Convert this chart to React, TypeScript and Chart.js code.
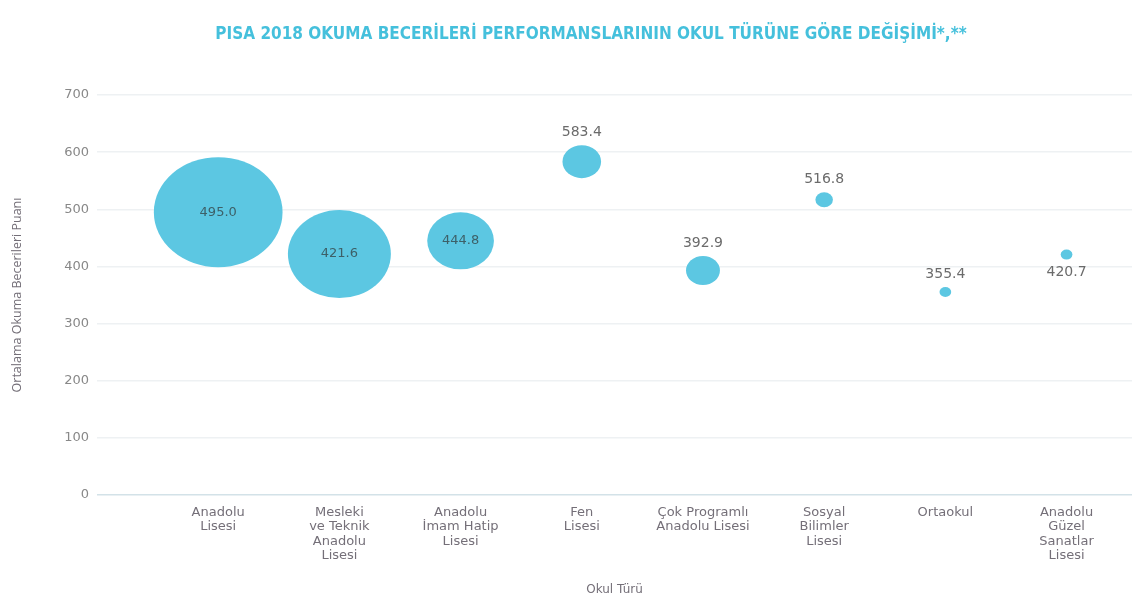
import React, { useEffect, useRef } from 'react';
import { Chart, registerables } from 'chart.js';

Chart.register(...registerables);

const chartTitle = 'PISA 2018 OKUMA BECERİLERİ PERFORMANSLARININ OKUL TÜRÜNE GÖRE DEĞİŞİMİ*,**';
const categories: string[][] = [
  ['Anadolu', 'Lisesi'],
  ['Mesleki', 've Teknik', 'Anadolu', 'Lisesi'],
  ['Anadolu', 'İmam Hatip', 'Lisesi'],
  ['Fen', 'Lisesi'],
  ['Çok Programlı', 'Anadolu Lisesi'],
  ['Sosyal', 'Bilimler', 'Lisesi'],
  ['Ortaokul'],
  ['Anadolu', 'Güzel', 'Sanatlar', 'Lisesi'],
];
const scores = [495.0, 421.6, 444.8, 583.4, 392.9, 516.8, 355.4, 420.7];
const bubbleSizes = [55, 44, 28.5, 16.5, 14.5, 7.5, 5, 5];
const labelPlacement = ['center', 'center', 'center', 'top', 'top', 'top', 'top', 'bottom'];
const yTickValues = [0, 100, 200, 300, 400, 500, 600, 700];

const BUBBLE = '#5cc7e2';
const FONT = '"Open Sans", "DejaVu Sans", sans-serif';
const WIDE = '"DejaVu Sans", sans-serif';

const ellipsePlugin = {
  id: 'ellipseBubbles',
  beforeDatasetDraw(chart: any, args: any) {
    const meta = chart.getDatasetMeta(args.index);
    const ctx = chart.ctx;
    ctx.save();
    meta.data.forEach((el: any) => {
      const r = el.options.radius;
      ctx.beginPath();
      ctx.ellipse(el.x, el.y, r * 1.17, r, 0, 0, Math.PI * 2);
      ctx.fillStyle = BUBBLE;
      ctx.fill();
    });
    ctx.restore();
    return false;
  },
};

const labelPlugin = {
  id: 'valueLabels',
  afterDatasetsDraw(chart: any) {
    const meta = chart.getDatasetMeta(0);
    const ctx = chart.ctx;
    ctx.save();
    ctx.textAlign = 'center';
    ctx.textBaseline = 'middle';
    meta.data.forEach((el: any, i: number) => {
      const r = el.options.radius;
      const place = labelPlacement[i];
      const text = scores[i].toFixed(1);
      let y = el.y;
      if (place === 'top') y = el.y - r - 13;
      if (place === 'bottom') y = el.y + r + 13;
      ctx.font = `${place === 'center' ? 13 : 14}px ${WIDE}`;
      ctx.fillStyle = place === 'center' ? '#3d6068' : '#6b6b6b';
      ctx.fillText(text, el.x, y);
    });
    ctx.restore();
  },
};

const titlePlugin = {
  id: 'topTitle',
  afterDraw(chart: any) {
    const ctx = chart.ctx;
    ctx.save();
    ctx.font = `bold 17px "DejaVu Sans Condensed", "Liberation Sans Narrow", sans-serif`;
    ctx.fillStyle = '#45c0dc';
    ctx.textAlign = 'center';
    ctx.textBaseline = 'middle';
    ctx.fillText(chartTitle, 591, 35);
    ctx.restore();
  },
};

export default function App() {
  const canvasRef = useRef<HTMLCanvasElement | null>(null);

  useEffect(() => {
    document.body.style.margin = '0';
    const canvas = canvasRef.current;
    if (!canvas) return;
    const chart = new Chart(canvas, {
      type: 'bubble',
      data: {
        datasets: [
          {
            label: 'Okuma',
            data: scores.map((s, i) => ({ x: i, y: s, r: bubbleSizes[i] })),
            backgroundColor: BUBBLE,
            borderWidth: 0,
          },
        ],
      },
      plugins: [ellipsePlugin, labelPlugin, titlePlugin],
      options: {
        animation: false,
        responsive: true,
        maintainAspectRatio: false,
        layout: { autoPadding: false, padding: { top: 95, right: 9, left: 0, bottom: 0 } },
        plugins: {
          legend: { display: false },
          tooltip: { enabled: false },
          title: { display: false },
        },
        scales: {
          x: {
            type: 'linear',
            min: -1,
            max: 7.54,
            afterBuildTicks: (scale: any) => {
              scale.ticks = categories.map((_, i) => ({ value: i }));
            },
            afterFit: (scale: any) => {
              scale.height = 106;
              scale.paddingLeft = 0;
              scale.paddingRight = 0;
            },
            grid: { display: false, drawTicks: false },
            border: { display: false },
            ticks: {
              autoSkip: false,
              maxRotation: 0,
              padding: 10,
              color: '#746f78',
              font: { family: WIDE, size: 13, lineHeight: 1.12 },
              callback: (v: any) => categories[v as number] ?? '',
            },
            title: {
              display: true,
              text: 'Okul Türü',
              color: '#746f78',
              font: { family: WIDE, size: 12 },
              padding: { top: 0, bottom: 4 },
            },
          },
          y: {
            min: 0,
            max: 700,
            afterBuildTicks: (scale: any) => {
              scale.ticks = yTickValues.map((v) => ({ value: v }));
            },
            afterFit: (scale: any) => {
              scale.width = 97;
            },
            grid: {
              color: (c: any) => (c.tick && c.tick.value === 0 ? '#d3e2e8' : '#eef1f3'),
              drawTicks: false,
              lineWidth: 1.5,
            },
            border: { display: false },
            ticks: {
              padding: 8,
              color: '#888',
              font: { family: WIDE, size: 13 },
            },
            title: {
              display: true,
              text: 'Ortalama Okuma Becerileri Puanı',
              color: '#746f78',
              font: { family: FONT, size: 12.5 },
              padding: { top: 10, bottom: 0 },
            },
          },
        },
      } as any,
    });
    return () => chart.destroy();
  }, []);

  return (
    <div style={{ width: '1141px', height: '601px', position: 'relative', background: '#fff' }}>
      <canvas ref={canvasRef} />
    </div>
  );
}
